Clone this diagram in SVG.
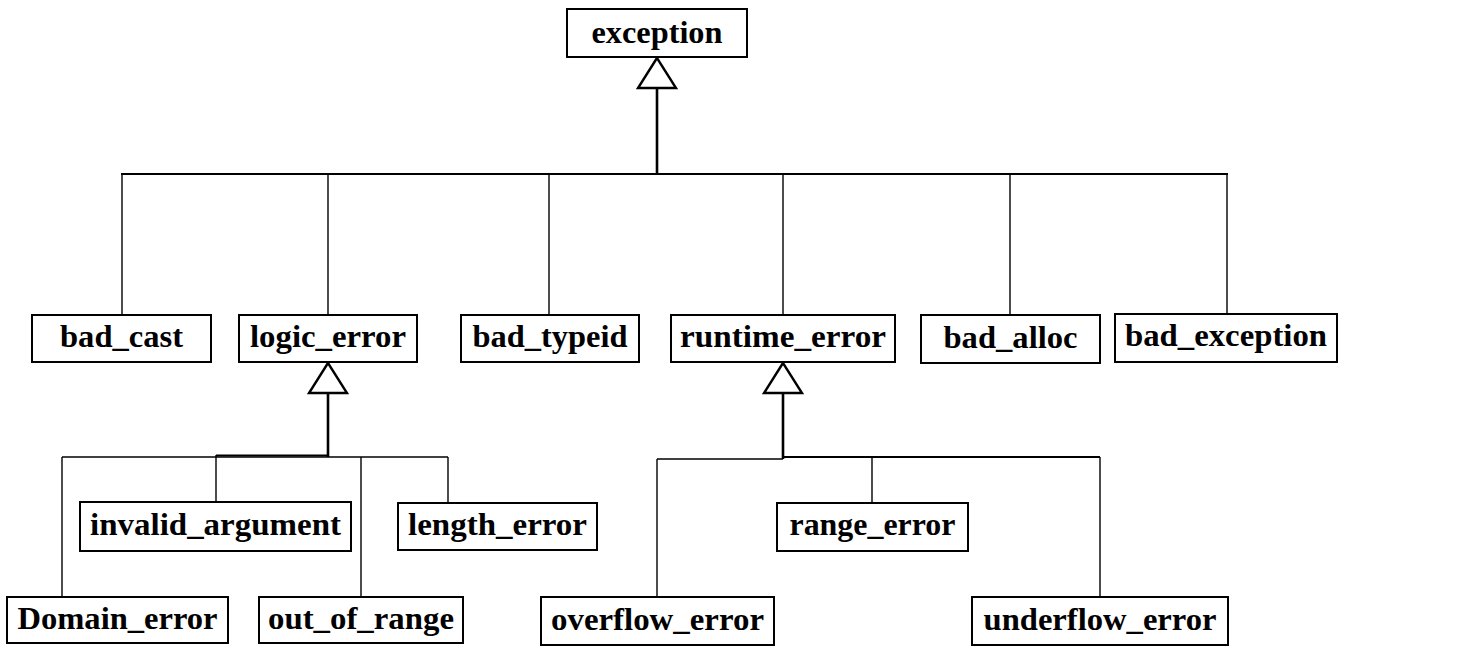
<svg xmlns="http://www.w3.org/2000/svg" width="1462" height="652" viewBox="0 0 1462 652">
<style>
.box{fill:#fff;stroke:#000;stroke-width:2}
.lbl{font-family:"Liberation Serif","Times New Roman",serif;font-weight:bold;font-size:31px;fill:#000;text-anchor:middle}
.thin{fill:none;stroke:#000;stroke-width:1.4}
.mid{fill:none;stroke:#000;stroke-width:2}
.thick{fill:none;stroke:#000;stroke-width:2.6}
.tri{fill:#fff;stroke:#000;stroke-width:2.4;stroke-linejoin:miter}
</style>
<rect width="1462" height="652" fill="#fff"/>
<g id="connectors">
  <line class="thick" x1="657" y1="88" x2="657" y2="174"/>
  <line class="mid" x1="121" y1="174" x2="1228" y2="174"/>
  <line class="thin" x1="122" y1="174" x2="122" y2="315"/>
  <line class="thin" x1="328" y1="174" x2="328" y2="315"/>
  <line class="thin" x1="549" y1="174" x2="549" y2="315"/>
  <line class="thin" x1="783" y1="174" x2="783" y2="315"/>
  <line class="thin" x1="1010" y1="174" x2="1010" y2="315"/>
  <line class="thin" x1="1227" y1="174" x2="1227" y2="315"/>
  <polygon class="tri" points="657,58 638,88 676,88"/>
  <line class="thick" x1="328" y1="393" x2="328" y2="457"/>
  <line class="thin" x1="62" y1="457" x2="448" y2="457"/>
  <line class="mid" x1="216" y1="455.5" x2="328" y2="455.5"/>
  <line class="thin" x1="62" y1="457" x2="62" y2="597"/>
  <line class="thin" x1="216" y1="455" x2="216" y2="503"/>
  <line class="thin" x1="361" y1="457" x2="361" y2="597"/>
  <line class="thin" x1="448" y1="457" x2="448" y2="503"/>
  <polygon class="tri" points="328,363 309,393 347,393"/>
  <line class="thick" x1="783" y1="393" x2="783" y2="459"/>
  <line class="thin" x1="657" y1="459" x2="783" y2="459"/>
  <line class="mid" x1="783" y1="457" x2="1100" y2="457"/>
  <line class="thin" x1="657" y1="459" x2="657" y2="597"/>
  <line class="thin" x1="872" y1="457" x2="872" y2="503"/>
  <line class="thin" x1="1100" y1="457" x2="1100" y2="597"/>
  <polygon class="tri" points="783,363 764,393 802,393"/>
</g>
<g id="exception"><rect class="box" x="567" y="9" width="180" height="48"/><text class="lbl" x="657" y="43" textLength="131" lengthAdjust="spacingAndGlyphs">exception</text></g>
<g id="bad_cast"><rect class="box" x="32" y="315" width="179" height="47"/><text class="lbl" x="121.5" y="347" textLength="123" lengthAdjust="spacingAndGlyphs">bad_cast</text></g>
<g id="logic_error"><rect class="box" x="239" y="315" width="178" height="47"/><text class="lbl" x="328" y="347" textLength="156" lengthAdjust="spacingAndGlyphs">logic_error</text></g>
<g id="bad_typeid"><rect class="box" x="461" y="315" width="178" height="47"/><text class="lbl" x="550" y="347" textLength="155" lengthAdjust="spacingAndGlyphs">bad_typeid</text></g>
<g id="runtime_error"><rect class="box" x="671" y="315" width="224" height="47"/><text class="lbl" x="783" y="347" textLength="206" lengthAdjust="spacingAndGlyphs">runtime_error</text></g>
<g id="bad_alloc"><rect class="box" x="921" y="315" width="179" height="48"/><text class="lbl" x="1010.5" y="348" textLength="134" lengthAdjust="spacingAndGlyphs">bad_alloc</text></g>
<g id="bad_exception"><rect class="box" x="1115" y="314" width="222" height="48"/><text class="lbl" x="1226" y="346" textLength="202" lengthAdjust="spacingAndGlyphs">bad_exception</text></g>
<g id="invalid_argument"><rect class="box" x="80" y="502" width="271" height="49"/><text class="lbl" x="215.5" y="535" textLength="251" lengthAdjust="spacingAndGlyphs">invalid_argument</text></g>
<g id="length_error"><rect class="box" x="398" y="503" width="199" height="47"/><text class="lbl" x="497.5" y="535" textLength="179" lengthAdjust="spacingAndGlyphs">length_error</text></g>
<g id="range_error"><rect class="box" x="777" y="503" width="191" height="48"/><text class="lbl" x="872.5" y="535" textLength="166" lengthAdjust="spacingAndGlyphs">range_error</text></g>
<g id="Domain_error"><rect class="box" x="7" y="597" width="221" height="46"/><text class="lbl" x="117.5" y="629" textLength="200" lengthAdjust="spacingAndGlyphs">Domain_error</text></g>
<g id="out_of_range"><rect class="box" x="259" y="597" width="204" height="46"/><text class="lbl" x="361" y="629" textLength="186" lengthAdjust="spacingAndGlyphs">out_of_range</text></g>
<g id="overflow_error"><rect class="box" x="541" y="597" width="233" height="48"/><text class="lbl" x="657.5" y="630" textLength="213" lengthAdjust="spacingAndGlyphs">overflow_error</text></g>
<g id="underflow_error"><rect class="box" x="972" y="597" width="256" height="48"/><text class="lbl" x="1100" y="630" textLength="233" lengthAdjust="spacingAndGlyphs">underflow_error</text></g>
</svg>
